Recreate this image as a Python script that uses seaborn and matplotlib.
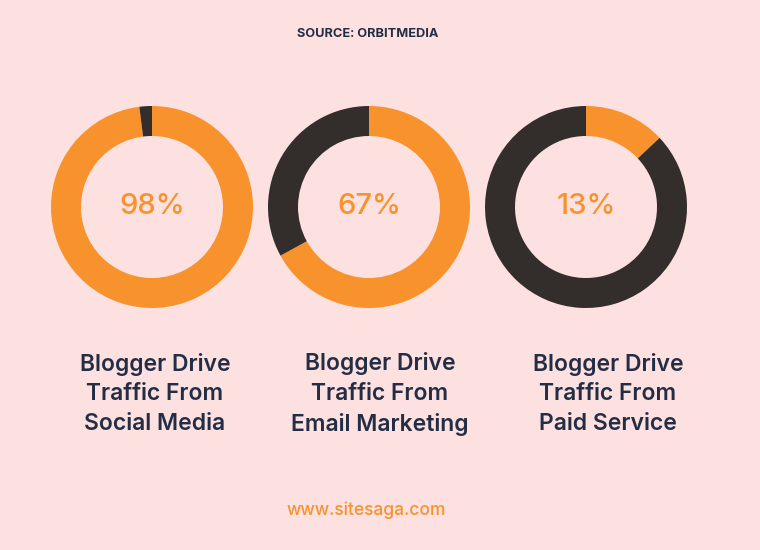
import matplotlib
matplotlib.use("Agg")
import matplotlib.pyplot as plt
import seaborn as sns

# Data
categories = ["Blogger Drive\nTraffic From\nSocial Media",
              "Blogger Drive\nTraffic From\nEmail Marketing",
              "Blogger Drive\nTraffic From\nPaid Service"]
percent_values = [98, 67, 13]
percent_labels = ["98%", "67%", "13%"]
source_text = "SOURCE: ORBITMEDIA"
footer_text = "www.sitesaga.com"

BG = "#fde0e0"
ORANGE = "#f7922c"
DARK = "#332d2b"
NAVY = "#232e45"

sns.set_theme(style="white")
plt.rcParams["font.family"] = ["Inter", "DejaVu Sans"]

W, H = 760, 550
fig = plt.figure(figsize=(7.6, 5.5), dpi=100, facecolor=BG)
ax = fig.add_axes([0, 0, 1, 1])
ax.set_facecolor(BG)

pal = sns.color_palette([ORANGE, DARK])

donut_x = [152, 369, 586]
label_x = [155, 380, 608]
cy = H - 207
R = 101
width = 30

for i, v in enumerate(percent_values):
    ax.pie([v, 100 - v], colors=pal, startangle=90, counterclock=False,
           center=(donut_x[i], cy), radius=R,
           wedgeprops=dict(width=width, linewidth=0), frame=True)
    ax.text(donut_x[i], H - 206, percent_labels[i], ha="center", va="center",
            fontsize=21, color=ORANGE, fontweight="medium")
    ax.text(label_x[i], H - 394, categories[i], ha="center", va="center",
            fontsize=16.5, color=NAVY, fontweight="semibold", linespacing=1.45)

ax.text(368, H - 34, source_text, ha="center", va="center", fontsize=9.2,
        color=NAVY, fontweight="bold")
ax.text(366, H - 510, footer_text, ha="center", va="center", fontsize=12.5,
        color=ORANGE, fontweight="medium")

ax.set_xlim(0, W)
ax.set_ylim(0, H)
ax.set_aspect("equal")
ax.axis("off")

fig.savefig("out.png", dpi=100, facecolor=BG)
